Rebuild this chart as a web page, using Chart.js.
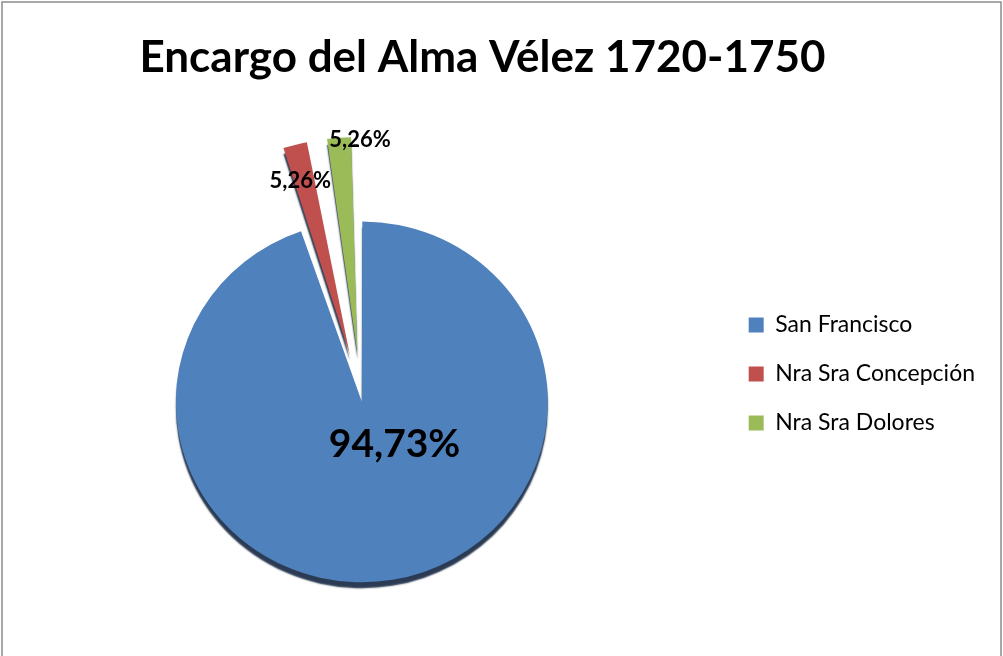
<!DOCTYPE html>
<html>
<head>
<meta charset="utf-8">
<title>Encargo del Alma Vélez 1720-1750</title>
<script src="https://cdn.jsdelivr.net/npm/chart.js@4.4.1/dist/chart.umd.min.js"></script>
<style>
    html, body { margin: 0; padding: 0; background: #fff; overflow: hidden; }
    /* the chart is a bit taller than the window; the bottom is cropped like the original */
    #view { width: 1003px; height: 656px; overflow: hidden; }
    #wrap { width: 1003px; height: 715px; position: relative; }
</style>
</head>
<body>
<div id="view"><div id="wrap"><canvas id="pie-chart"></canvas></div></div>
<script>
// ======================================
// DATA
// ======================================
const categories = ["San Francisco", "Nra Sra Concepción", "Nra Sra Dolores"];
const sliceValues = [94.73, 2.63, 2.63];          // slice sizes as drawn
const sliceLabels = ["94,73%", "5,26%", "5,26%"]; // labels printed on the chart

const sliceColors = ["#4F81BD", "#C0504D", "#9BBB59"];
const fontFamily = "Lato, 'Open Sans', sans-serif";

// where each percentage label sits: fraction of the radius + small turn off the bisector
const labelPlacement = [
    { r: 0.28, turn: -29.5, size: 39 },
    { r: 0.76, turn: -2.4, size: 22 },
    { r: 0.94, turn: 6.7, size: 22 }
];

// the original pie is a touch flatter than a circle
const pieSquash = 0.97;


// -----------------------------------------
// Gray frame round the chart (top, left, right)
// -----------------------------------------
const framePlugin = {
    id: "frame",
    beforeDraw: function (chart) {
        const ctx = chart.ctx;
        ctx.save();
        ctx.strokeStyle = "#8c8c8c";
        ctx.lineWidth = 1.5;
        ctx.strokeRect(2, 2, chart.width - 4, chart.height + 20);
        ctx.restore();
    }
};

// -----------------------------------------
// Dark rim / drop shadow under the slices, slight vertical squash
// -----------------------------------------
const shadowPlugin = {
    id: "sliceShadow",
    beforeDatasetsDraw: function (chart) {
        const ctx = chart.ctx;
        const first = chart.getDatasetMeta(0).data[0];
        ctx.save();
        ctx.translate(first.x, first.y);
        ctx.scale(1, pieSquash);
        ctx.translate(-first.x, -first.y);
        ctx.shadowColor = "rgba(25, 42, 68, 0.92)";
        ctx.shadowBlur = 1.5;
        ctx.shadowOffsetX = 0;
        ctx.shadowOffsetY = 6;
    },
    afterDatasetsDraw: function (chart) {
        chart.ctx.restore();
    }
};

// -----------------------------------------
// Percentage labels on the slices
// -----------------------------------------
const labelPlugin = {
    id: "sliceLabels",
    afterDatasetsDraw: function (chart) {
        const ctx = chart.ctx;
        const meta = chart.getDatasetMeta(0);
        ctx.save();
        ctx.fillStyle = "#000";
        ctx.textAlign = "center";
        ctx.textBaseline = "middle";
        meta.data.forEach(function (arc, i) {
            const p = arc.getProps(["x", "y", "startAngle", "endAngle", "outerRadius", "circumference"], true);
            const mid = (p.startAngle + p.endAngle) / 2;
            // same shift Chart.js applies to an exploded arc
            const off = (arc.options.offset || 0) / 4;
            const fix = 1 - Math.sin(Math.min(Math.PI, p.circumference));
            const shift = off + off * fix;
            const cx = p.x + Math.cos(mid) * shift;
            const cy = p.y + Math.sin(mid) * shift;
            const place = labelPlacement[i];
            const a = mid + place.turn * Math.PI / 180;
            const d = place.r * p.outerRadius;
            ctx.font = "bold " + place.size + "px " + fontFamily;
            ctx.fillText(sliceLabels[i], cx + Math.cos(a) * d, cy + Math.sin(a) * d);
        });
        ctx.restore();
    }
};


// -----------------------------------------
// Chart
// -----------------------------------------
const ctx = document.getElementById("pie-chart");

new Chart(ctx, {
    type: "pie",
    data: {
        labels: categories,
        datasets: [{
            data: sliceValues,
            backgroundColor: sliceColors,
            borderWidth: 0,
            offset: [12, 190, 190]
        }]
    },
    options: {
        responsive: true,
        maintainAspectRatio: false,
        animation: false,
        events: [],
        radius: 183,
        layout: {
            // negative left only moves the full-width title; the pie area stops at 0
            padding: { top: 33, bottom: 0, left: -20, right: 18 }
        },
        plugins: {
            title: {
                display: true,
                text: "Encargo del Alma Vélez 1720-1750",
                color: "#000",
                padding: 0,
                font: { family: fontFamily, size: 44, weight: "bold", lineHeight: "50px" }
            },
            legend: {
                position: "right",
                labels: {
                    color: "#000",
                    boxWidth: 15,
                    boxHeight: 15,
                    padding: 26,
                    font: { family: fontFamily, size: 23 }
                }
            },
            tooltip: { enabled: false }
        }
    },
    plugins: [framePlugin, shadowPlugin, labelPlugin]
});
</script>
</body>
</html>
